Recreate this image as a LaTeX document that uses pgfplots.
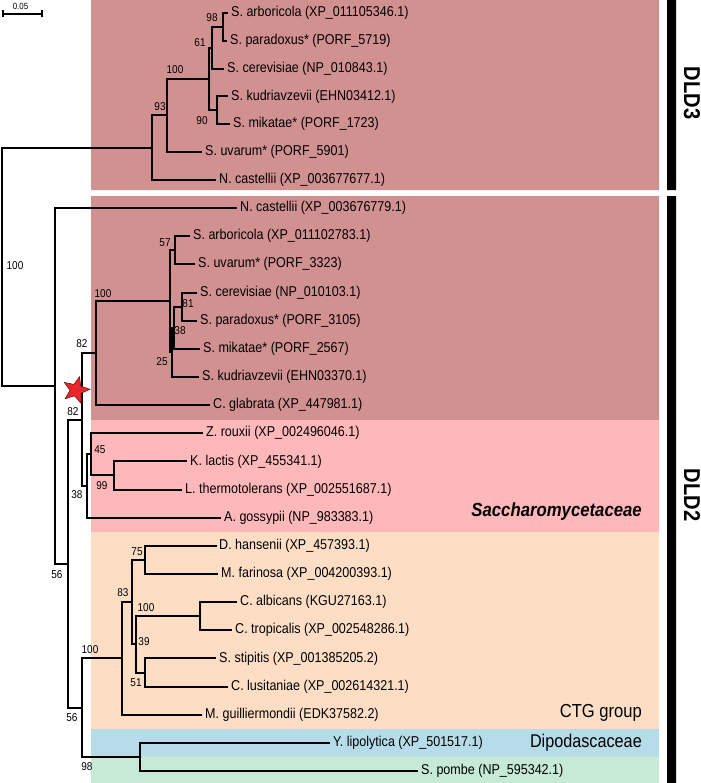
\documentclass[border=0pt]{standalone}
\usepackage{fontspec}
\setmainfont[FakeStretch=0.88]{Liberation Sans}
\usepackage{pgfplots}
\pgfplotsset{compat=1.18}
\definecolor{dldc}{RGB}{210,145,145}
\definecolor{pinkc}{RGB}{255,184,186}
\definecolor{peachc}{RGB}{253,222,197}
\definecolor{bluec}{RGB}{182,220,234}
\definecolor{greenc}{RGB}{198,234,213}
\definecolor{starc}{RGB}{232,38,44}
\tikzset{
  tree/.style={black, line width=2bp, line cap=rect, line join=miter},
  leaf/.style={font=\fontsize{14.3}{16}\selectfont, anchor=west, inner sep=0pt},
  bs/.style={font=\fontsize{11.4}{13}\selectfont, anchor=center, inner sep=0pt},
}
\begin{document}
\begin{tikzpicture}
\begin{axis}[width=701bp, height=783bp, scale only axis,
  xmin=0, xmax=701, ymin=0, ymax=783, y dir=reverse,
  hide axis, clip=false]
% canvas
\addplot[draw=none, fill=white] coordinates {(0,0) (701,0) (701,783) (0,783) (0,0)};
% background bands
\addplot[draw=none, fill=dldc] coordinates {(91,0) (659,0) (659,190) (91,190) (91,0)};
\addplot[draw=none, fill=dldc] coordinates {(91,196) (659,196) (659,420) (91,420) (91,196)};
\addplot[draw=none, fill=pinkc] coordinates {(91,420) (659,420) (659,532) (91,532) (91,420)};
\addplot[draw=none, fill=peachc] coordinates {(91,532) (659,532) (659,729) (91,729) (91,532)};
\addplot[draw=none, fill=bluec] coordinates {(91,729) (659,729) (659,757) (91,757) (91,729)};
\addplot[draw=none, fill=greenc] coordinates {(91,757) (659,757) (659,783) (91,783) (91,757)};
% black bars
\addplot[draw=none, fill=black] coordinates {(667,0) (676,0) (676,190) (667,190) (667,0)};
\addplot[draw=none, fill=black] coordinates {(667,196) (676,196) (676,783) (667,783) (667,196)};
% scale bar
\addplot[black, line width=1.2bp] coordinates {(3,14) (42,14)};
\addplot[black, line width=1.2bp] coordinates {(3,10.5) (3,17.5)};
\addplot[black, line width=1.2bp] coordinates {(42,10.5) (42,17.5)};
\node[font=\fontsize{9}{10}\selectfont, inner sep=0pt] at (axis cs:20.5,6.5) {0.05};
% root
\addplot[tree] coordinates {(152,147.65) (2,147.65) (2,385.8) (55,385.8)};
% DLD3
\addplot[tree] coordinates {(227,13) (223,13) (223,40.8) (226,40.8)};
\addplot[tree] coordinates {(223,26.9) (212,26.9) (212,68.6) (223,68.6)};
\addplot[tree] coordinates {(227,96.4) (217,96.4) (217,124.2) (229,124.2)};
\addplot[tree] coordinates {(212,47.75) (209,47.75) (209,110.3) (217,110.3)};
\addplot[tree] coordinates {(209,79) (167,79) (167,152) (201,152)};
\addplot[tree] coordinates {(167,115.5) (152,115.5) (152,179.8) (215,179.8)};
% DLD2
\addplot[tree] coordinates {(236,208) (55,208) (55,563.65) (68,563.65)};
\addplot[tree] coordinates {(82,419.6) (68,419.6) (68,707.7) (82,707.7)};
\addplot[tree] coordinates {(96,353.2) (82,353.2) (82,486) (87,486)};
\addplot[tree] coordinates {(170,301.3) (96,301.3) (96,405.1) (209,405.1)};
\addplot[tree] coordinates {(175,250.25) (170,250.25) (170,352.3) (171.5,352.3)};
\addplot[tree] coordinates {(189,236.2) (175,236.2) (175,264.3) (194,264.3)};
\addplot[tree] coordinates {(174,327.7) (171.5,327.7) (171.5,376.9) (198,376.9)};
\addplot[tree] coordinates {(182,306.55) (174,306.55) (174,348.8) (199,348.8)};
\addplot[tree] coordinates {(196,292.5) (182,292.5) (182,320.6) (196,320.6)};
\addplot[tree] coordinates {(91,454.3) (87,454.3) (87,517.7) (220,517.7)};
\addplot[tree] coordinates {(202,433.2) (91,433.2) (91,475.45) (114,475.45)};
\addplot[tree] coordinates {(186,461.4) (114,461.4) (114,489.5) (181,489.5)};
\addplot[tree] coordinates {(122,658.4) (82,658.4) (82,756.95) (140,756.95)};
\addplot[tree] coordinates {(132,602.1) (122,602.1) (122,714.7) (201,714.7)};
\addplot[tree] coordinates {(145,559.9) (132,559.9) (132,644.35) (136,644.35)};
\addplot[tree] coordinates {(216,545.8) (145,545.8) (145,574) (217,574)};
\addplot[tree] coordinates {(200,616.2) (136,616.2) (136,672.5) (145,672.5)};
\addplot[tree] coordinates {(236,602.1) (200,602.1) (200,630.3) (231,630.3)};
\addplot[tree] coordinates {(215,658.4) (145,658.4) (145,686.6) (227,686.6)};
\addplot[tree] coordinates {(329,742.9) (140,742.9) (140,771) (417,771)};
% star
\addplot[fill=starc, draw=red!45!black, line width=0.5bp] coordinates {
 (79.6,376.5) (73.9,384.4) (64.3,382.4) (70.0,390.3) (65.1,398.8) (74.4,395.8)
 (81.0,403.1) (81.0,393.3) (90.0,389.3) (80.7,386.2) (79.6,376.5)};
% leaf labels DLD3
\node[leaf] at (axis cs:231,13) {S. arboricola (XP\_011105346.1)};
\node[leaf] at (axis cs:230,40.8) {S. paradoxus* (PORF\_5719)};
\node[leaf] at (axis cs:227,68.6) {S. cerevisiae (NP\_010843.1)};
\node[leaf] at (axis cs:231,96.4) {S. kudriavzevii (EHN03412.1)};
\node[leaf] at (axis cs:233,124.2) {S. mikatae* (PORF\_1723)};
\node[leaf] at (axis cs:205,152) {S. uvarum* (PORF\_5901)};
\node[leaf] at (axis cs:219,179.8) {N. castellii (XP\_003677677.1)};
% leaf labels DLD2
\node[leaf] at (axis cs:240,208) {N. castellii (XP\_003676779.1)};
\node[leaf] at (axis cs:193,236.2) {S. arboricola (XP\_011102783.1)};
\node[leaf] at (axis cs:198,264.3) {S. uvarum* (PORF\_3323)};
\node[leaf] at (axis cs:200,292.5) {S. cerevisiae (NP\_010103.1)};
\node[leaf] at (axis cs:200,320.6) {S. paradoxus* (PORF\_3105)};
\node[leaf] at (axis cs:203,348.8) {S. mikatae* (PORF\_2567)};
\node[leaf] at (axis cs:202,376.9) {S. kudriavzevii (EHN03370.1)};
\node[leaf] at (axis cs:213,405.1) {C. glabrata (XP\_447981.1)};
\node[leaf] at (axis cs:206,433.2) {Z. rouxii (XP\_002496046.1)};
\node[leaf] at (axis cs:190,461.4) {K. lactis (XP\_455341.1)};
\node[leaf] at (axis cs:185,489.5) {L. thermotolerans (XP\_002551687.1)};
\node[leaf] at (axis cs:224,517.7) {A. gossypii (NP\_983383.1)};
\node[leaf] at (axis cs:219,545.8) {D. hansenii (XP\_457393.1)};
\node[leaf] at (axis cs:221,574) {M. farinosa (XP\_004200393.1)};
\node[leaf] at (axis cs:240,602.1) {C. albicans (KGU27163.1)};
\node[leaf] at (axis cs:235,630.3) {C. tropicalis (XP\_002548286.1)};
\node[leaf] at (axis cs:219,658.4) {S. stipitis (XP\_001385205.2)};
\node[leaf] at (axis cs:231,686.6) {C. lusitaniae (XP\_002614321.1)};
\node[leaf] at (axis cs:205,714.7) {M. guilliermondii (EDK37582.2)};
\node[leaf] at (axis cs:333,742.9) {Y. lipolytica (XP\_501517.1)};
\node[leaf] at (axis cs:421,771) {S. pombe (NP\_595342.1)};
% bootstrap values
\node[bs] at (axis cs:212,18) {98};
\node[bs] at (axis cs:200,43) {61};
\node[bs] at (axis cs:175,70) {100};
\node[bs] at (axis cs:160,107) {93};
\node[bs] at (axis cs:202,121) {90};
\node[bs] at (axis cs:15,266) {100};
\node[bs] at (axis cs:165,243) {57};
\node[bs] at (axis cs:103,294) {100};
\node[bs] at (axis cs:188,304) {81};
\node[bs] at (axis cs:180,331) {38};
\node[bs] at (axis cs:82,344) {82};
\node[bs] at (axis cs:162,362) {25};
\node[bs] at (axis cs:73,412) {82};
\node[bs] at (axis cs:100,450) {45};
\node[bs] at (axis cs:102,486) {99};
\node[bs] at (axis cs:77,495) {38};
\node[bs] at (axis cs:57,575) {56};
\node[bs] at (axis cs:137,552) {75};
\node[bs] at (axis cs:123,593) {83};
\node[bs] at (axis cs:146,608) {100};
\node[bs] at (axis cs:144,642) {39};
\node[bs] at (axis cs:90,650) {100};
\node[bs] at (axis cs:136,683) {51};
\node[bs] at (axis cs:72,718) {56};
\node[bs] at (axis cs:87,767) {98};
% group labels
\node[font=\fontsize{19.1}{21}\selectfont\bfseries\itshape, anchor=east, inner sep=0pt] at (axis cs:642,512) {Saccharomycetaceae};
\node[font=\fontsize{18.9}{21}\selectfont, anchor=east, inner sep=0pt] at (axis cs:642,713) {CTG group};
\node[font=\fontsize{18.5}{21}\selectfont, anchor=east, inner sep=0pt] at (axis cs:642,743) {Dipodascaceae};
\node[font=\fontsize{23}{25}\selectfont\bfseries, rotate=-90, inner sep=0pt] at (axis cs:692,93) {DLD3};
\node[font=\fontsize{23}{25}\selectfont\bfseries, rotate=-90, inner sep=0pt] at (axis cs:692,495) {DLD2};
\end{axis}
\end{tikzpicture}
\end{document}
